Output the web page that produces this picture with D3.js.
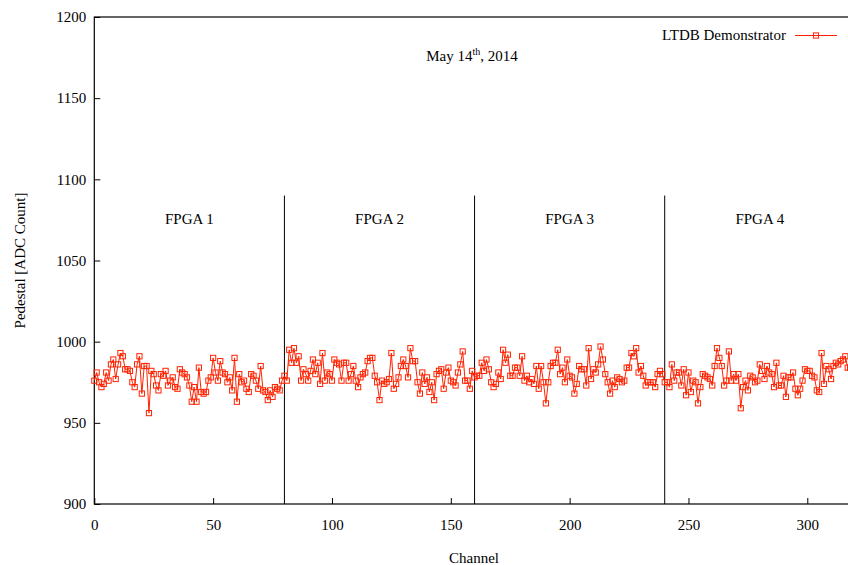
<!DOCTYPE html>
<html>
<head>
<meta charset="utf-8">
<script src="https://cdn.jsdelivr.net/npm/d3@7"></script>
<style>
  body { margin: 0; background: #fff; }
  svg text { font-family: "Liberation Serif", "Times New Roman", serif; fill: #000; }
</style>
</head>
<body>
<div id="chart"></div>
<script>
// Pedestal per channel
const pedestal = [
  976, 981, 975, 972, 974, 981, 976, 986, 989, 977, 986, 993, 991, 983, 983, 982, 975, 972, 986, 991,
  968, 985, 985, 956, 982, 980, 973, 970, 980, 979, 982, 973, 976, 978, 972, 971, 983, 981, 980, 978,
  973, 963, 972, 963, 984, 969, 968, 969, 976, 978, 990, 981, 976, 988, 981, 980, 975, 978, 970, 990,
  963, 980, 975, 976, 971, 969, 980, 979, 976, 971, 985, 970, 969, 964, 970, 966, 972, 971, 970, 976,
  979, 976, 995, 987, 996, 987, 991, 976, 983, 980, 976, 982, 989, 980, 987, 974, 993, 976, 981, 980,
  976, 989, 987, 986, 976, 987, 987, 976, 980, 985, 976, 972, 978, 980, 981, 988, 990, 990, 979, 975,
  964, 976, 974, 975, 977, 993, 971, 974, 978, 985, 989, 985, 978, 996, 988, 988, 975, 968, 981, 974,
  978, 969, 975, 964, 980, 982, 983, 971, 981, 984, 976, 975, 973, 981, 986, 994, 976, 976, 971, 982,
  978, 979, 979, 987, 982, 989, 983, 975, 972, 974, 981, 977, 995, 987, 992, 979, 979, 984, 984, 979,
  991, 976, 979, 975, 977, 974, 985, 971, 985, 975, 962, 975, 985, 987, 987, 995, 980, 984, 975, 989,
  979, 978, 968, 974, 985, 983, 983, 973, 996, 977, 983, 981, 986, 997, 989, 980, 975, 968, 976, 972,
  978, 977, 975, 976, 984, 984, 993, 991, 996, 981, 985, 979, 973, 975, 975, 975, 972, 980, 982, 980,
  975, 975, 972, 986, 976, 981, 981, 973, 983, 967, 981, 969, 976, 975, 962, 972, 980, 979, 978, 977,
  973, 985, 996, 990, 985, 973, 976, 994, 976, 980, 976, 980, 959, 972, 976, 970, 979, 978, 975, 976,
  986, 982, 977, 985, 981, 980, 972, 987, 973, 973, 979, 966, 978, 978, 981, 971, 967, 971, 976, 983,
  982, 982, 979, 978, 970, 969, 993, 974, 985, 983, 977, 985, 987, 986, 988, 989, 991, 984, 984, 983
];
const data = pedestal.map((v, i) => ({ ch: i, v: v }));

const xTicks = [0, 50, 100, 150, 200, 250, 300];
const yTicks = [900, 950, 1000, 1050, 1100, 1150, 1200];
const fpgaBounds = [80, 160, 240];
const fpgaLabels = ["FPGA 1", "FPGA 2", "FPGA 3", "FPGA 4"];
const fpgaCenters = [40, 120, 200, 280];

const width = 848, height = 565;
const plotLeft = 94.3, plotTop = 17, plotBottom = 504;
const red = "#ff2200";
const serif = "'Liberation Serif', 'Times New Roman', serif";

const svg = d3.select("#chart").append("svg")
  .attr("width", width)
  .attr("height", height)
  .attr("font-family", serif);

const x = d3.scaleLinear().domain([0, 320]).range([plotLeft, plotLeft + 320 * 2.3767]);
const y = d3.scaleLinear().domain([900, 1200]).range([plotBottom, plotTop]);

// Axes with inward ticks
svg.append("g")
  .attr("transform", `translate(0,${plotBottom})`)
  .call(d3.axisBottom(x).tickValues(xTicks).tickFormat(d3.format("d")).tickSize(-6).tickPadding(15))
  .attr("font-family", serif)
  .call(g => g.select(".domain").remove())
  .call(g => g.selectAll("line").attr("stroke", "#000"))
  .selectAll("text")
  .style("font-size", "15px");

svg.append("g")
  .attr("transform", `translate(${plotLeft},0)`)
  .call(d3.axisLeft(y).tickValues(yTicks).tickFormat(d3.format("d")).tickSize(-6).tickPadding(8))
  .attr("font-family", serif)
  .call(g => g.select(".domain").remove())
  .call(g => g.selectAll("line").attr("stroke", "#000"))
  .selectAll("text")
  .style("font-size", "15px");

// Frame (right side runs off the picture)
svg.append("rect")
  .attr("x", plotLeft)
  .attr("y", plotTop)
  .attr("width", x(320) - plotLeft)
  .attr("height", plotBottom - plotTop)
  .attr("fill", "none")
  .attr("stroke", "#000")
  .attr("stroke-width", 1.2);

// FPGA boundaries
svg.selectAll(".bound")
  .data(fpgaBounds)
  .enter()
  .append("line")
  .attr("x1", d => x(d))
  .attr("x2", d => x(d))
  .attr("y1", y(1090))
  .attr("y2", y(900))
  .attr("stroke", "#000")
  .attr("stroke-width", 1);

svg.selectAll(".fpga")
  .data(fpgaLabels)
  .enter()
  .append("text")
  .attr("x", (d, i) => x(fpgaCenters[i]))
  .attr("y", 224)
  .attr("text-anchor", "middle")
  .style("font-size", "15px")
  .text(d => d);

// Data line + open squares
svg.append("path")
  .datum(data)
  .attr("fill", "none")
  .attr("stroke", red)
  .attr("stroke-width", 1)
  .attr("d", d3.line().x(d => x(d.ch)).y(d => y(d.v)));

svg.selectAll(".pt")
  .data(data)
  .enter()
  .append("rect")
  .attr("x", d => x(d.ch) - 2.6)
  .attr("y", d => y(d.v) - 2.6)
  .attr("width", 5.2)
  .attr("height", 5.2)
  .attr("fill", "none")
  .attr("stroke", red)
  .attr("stroke-width", 1);

// Legend
svg.append("text")
  .attr("x", 786)
  .attr("y", 40)
  .attr("text-anchor", "end")
  .style("font-size", "15px")
  .text("LTDB Demonstrator");

svg.append("line")
  .attr("x1", 795).attr("x2", 837)
  .attr("y1", 35.5).attr("y2", 35.5)
  .attr("stroke", red)
  .attr("stroke-width", 1);

svg.append("rect")
  .attr("x", 816 - 2.6).attr("y", 35.5 - 2.6)
  .attr("width", 5.2).attr("height", 5.2)
  .attr("fill", "none")
  .attr("stroke", red);

// Date
const date = svg.append("text")
  .attr("x", 472)
  .attr("y", 61)
  .attr("text-anchor", "middle")
  .style("font-size", "15px");
date.append("tspan").text("May 14");
date.append("tspan").attr("dy", -6).style("font-size", "10px").text("th");
date.append("tspan").attr("dy", 6).text(", 2014");

// Axis titles
svg.append("text")
  .attr("x", 474)
  .attr("y", 563)
  .attr("text-anchor", "middle")
  .style("font-size", "15px")
  .text("Channel");

svg.append("text")
  .attr("transform", `translate(25,${(plotTop + plotBottom) / 2}) rotate(-90)`)
  .attr("text-anchor", "middle")
  .style("font-size", "15px")
  .text("Pedestal [ADC Count]");
</script>
</body>
</html>
